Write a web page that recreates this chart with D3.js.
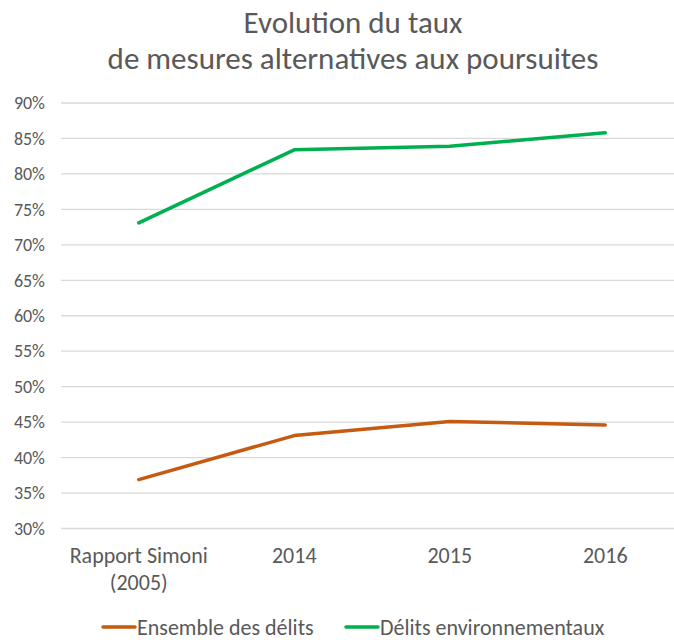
<!DOCTYPE html>
<html>
<head>
<meta charset="utf-8">
<script src="https://cdn.jsdelivr.net/npm/d3@7"></script>
<style>
  body { margin: 0; background: #fff; }
  svg text { font-family: Carlito, Calibri, Lato, sans-serif; fill: #595959; }
</style>
</head>
<body>
<div id="chart"></div>
<script>
const categories = ['Rapport Simoni\n(2005)', '2014', '2015', '2016'];
const ensemble = [0.369, 0.431, 0.451, 0.446];
const environnement = [0.731, 0.834, 0.839, 0.858];
const yTicks = [0.30, 0.35, 0.40, 0.45, 0.50, 0.55, 0.60, 0.65, 0.70, 0.75, 0.80, 0.85, 0.90];

const series = [
  { name: 'Ensemble des délits', values: ensemble, color: '#C55A11' },
  { name: 'Délits environnementaux', values: environnement, color: '#00B050' }
];

const W = 674, H = 640;
const svg = d3.select('#chart')
  .append('svg')
  .attr('width', W)
  .attr('height', H);

// title
const title = svg.append('text')
  .attr('text-anchor', 'middle')
  .style('font-size', '31px');
title.append('tspan').attr('x', 353).attr('y', 32.5).text('Evolution du taux');
title.append('tspan').attr('x', 353).attr('y', 69).text('de mesures alternatives aux poursuites');

const xScale = d3.scaleBand()
  .domain(categories)
  .range([61, 683]);

const yScale = d3.scaleLinear()
  .domain([0.30, 0.90])
  .range([528.5, 103]);

// grid
svg.append('g')
  .selectAll('line')
  .data(yTicks)
  .enter()
  .append('line')
  .attr('x1', 61)
  .attr('x2', 674)
  .attr('y1', d => yScale(d))
  .attr('y2', d => yScale(d))
  .attr('stroke', '#D9D9D9')
  .attr('stroke-width', 1.3);

// y axis
const yAxis = d3.axisLeft(yScale)
  .tickValues(yTicks)
  .tickFormat(d3.format('.0%'))
  .tickSize(0)
  .tickPadding(0);

svg.append('g')
  .attr('transform', 'translate(45, 0)')
  .call(yAxis)
  .call(g => g.select('.domain').remove())
  .selectAll('text')
  .style('font-size', '18px')
  .attr('fill', '#595959');

// x axis
const xAxis = d3.axisBottom(xScale).tickSize(0).tickPadding(0);
const xg = svg.append('g')
  .attr('transform', 'translate(0, 540)')
  .call(xAxis);
xg.select('.domain').remove();
xg.selectAll('.tick text')
  .style('font-size', '22px')
  .attr('fill', '#595959')
  .attr('dy', null)
  .attr('y', 0)
  .text(null)
  .each(function (d) {
    const parts = d.split('\n');
    parts.forEach((p, i) => {
      d3.select(this).append('tspan')
        .attr('x', 0)
        .attr('y', 23 + i * 27)
        .text(p);
    });
  });

// lines
const line = d3.line()
  .x((d, i) => xScale(categories[i]) + xScale.bandwidth() / 2)
  .y(d => yScale(d));

svg.selectAll('.serie')
  .data(series)
  .enter()
  .append('path')
  .attr('class', 'serie')
  .attr('d', d => line(d.values))
  .attr('fill', 'none')
  .attr('stroke', d => d.color)
  .attr('stroke-width', 3.5)
  .attr('stroke-linejoin', 'round')
  .attr('stroke-linecap', 'round');

// legend
const legendX = [103, 346];
const legend = svg.selectAll('.legend-item')
  .data(series)
  .enter()
  .append('g')
  .attr('class', 'legend-item')
  .attr('transform', (d, i) => `translate(${legendX[i]}, 627)`);

legend.append('line')
  .attr('x1', 0)
  .attr('x2', 32)
  .attr('stroke', d => d.color)
  .attr('stroke-width', 3.5)
  .attr('stroke-linecap', 'round');

legend.append('text')
  .attr('x', 34)
  .attr('y', 7.5)
  .style('font-size', '22px')
  .text(d => d.name);
</script>
</body>
</html>
